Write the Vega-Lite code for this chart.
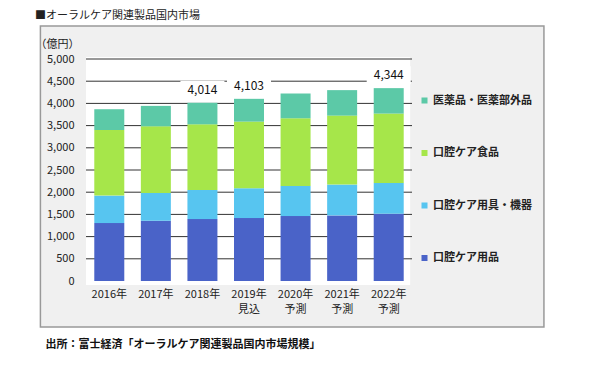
{
  "$schema": "https://vega.github.io/schema/vega-lite/v6.json",
  "width": 336,
  "height": 222,
  "autosize": {"type": "none"},
  "padding": {"left": 81, "top": 59, "right": 173, "bottom": 87},
  "background": "#ffffff",
  "config": {
    "font": "Noto Sans CJK JP",
    "view": {"stroke": null, "fill": null},
    "axisY": {"tickCount": 10, "labelExpr": "format(datum.value, ',')", "domain": false, "ticks": false, "grid": false, "labelPadding": 7, "labelFontSize": 11, "labelColor": "#222222", "titleAngle": 0, "titleAlign": "right", "titleX": -2, "titleY": -15, "titleBaseline": "middle", "titleFontSize": 11, "titleFontWeight": "normal", "titleColor": "#222222"},
    "axisX": {"labels": false, "ticks": false, "domain": false, "grid": false, "titleAnchor": "start", "titleAlign": "left", "titleX": -36, "titleY": 63, "titleBaseline": "middle", "titleFontSize": 11, "titleFontWeight": "bold", "titleColor": "#111111"}
  },
  "title": {
    "text": "■オーラルケア関連製品国内市場",
    "anchor": "start",
    "frame": "group",
    "dx": -46,
    "offset": 4,
    "fontSize": 11,
    "fontWeight": "normal",
    "color": "#222222"
  },
  "datasets": {
    "market": [
      {"i": 0, "year": "2016年", "cat": "口腔ケア用品", "v": 1305},
      {"i": 0, "year": "2016年", "cat": "口腔ケア用具・機器", "v": 618},
      {"i": 0, "year": "2016年", "cat": "口腔ケア食品", "v": 1478},
      {"i": 0, "year": "2016年", "cat": "医薬品・医薬部外品", "v": 468},
      {"i": 1, "year": "2017年", "cat": "口腔ケア用品", "v": 1357},
      {"i": 1, "year": "2017年", "cat": "口腔ケア用具・機器", "v": 626},
      {"i": 1, "year": "2017年", "cat": "口腔ケア食品", "v": 1501},
      {"i": 1, "year": "2017年", "cat": "医薬品・医薬部外品", "v": 460},
      {"i": 2, "year": "2018年", "cat": "口腔ケア用品", "v": 1395},
      {"i": 2, "year": "2018年", "cat": "口腔ケア用具・機器", "v": 656},
      {"i": 2, "year": "2018年", "cat": "口腔ケア食品", "v": 1478},
      {"i": 2, "year": "2018年", "cat": "医薬品・医薬部外品", "v": 485},
      {"i": 3, "year": "2019年\n見込", "cat": "口腔ケア用品", "v": 1418},
      {"i": 3, "year": "2019年\n見込", "cat": "口腔ケア用具・機器", "v": 671},
      {"i": 3, "year": "2019年\n見込", "cat": "口腔ケア食品", "v": 1501},
      {"i": 3, "year": "2019年\n見込", "cat": "医薬品・医薬部外品", "v": 513},
      {"i": 4, "year": "2020年\n予測", "cat": "口腔ケア用品", "v": 1463},
      {"i": 4, "year": "2020年\n予測", "cat": "口腔ケア用具・機器", "v": 679},
      {"i": 4, "year": "2020年\n予測", "cat": "口腔ケア食品", "v": 1523},
      {"i": 4, "year": "2020年\n予測", "cat": "医薬品・医薬部外品", "v": 558},
      {"i": 5, "year": "2021年\n予測", "cat": "口腔ケア用品", "v": 1478},
      {"i": 5, "year": "2021年\n予測", "cat": "口腔ケア用具・機器", "v": 694},
      {"i": 5, "year": "2021年\n予測", "cat": "口腔ケア食品", "v": 1553},
      {"i": 5, "year": "2021年\n予測", "cat": "医薬品・医薬部外品", "v": 574},
      {"i": 6, "year": "2022年\n予測", "cat": "口腔ケア用品", "v": 1516},
      {"i": 6, "year": "2022年\n予測", "cat": "口腔ケア用具・機器", "v": 694},
      {"i": 6, "year": "2022年\n予測", "cat": "口腔ケア食品", "v": 1561},
      {"i": 6, "year": "2022年\n予測", "cat": "医薬品・医薬部外品", "v": 573}
    ],
    "years": [
      {"i": 0, "year": "2016年"},
      {"i": 1, "year": "2017年"},
      {"i": 2, "year": "2018年"},
      {"i": 3, "year": "2019年\n見込"},
      {"i": 4, "year": "2020年\n予測"},
      {"i": 5, "year": "2021年\n予測"},
      {"i": 6, "year": "2022年\n予測"}
    ],
    "totals": [
      {"i": 2, "total": 4014},
      {"i": 3, "total": 4103},
      {"i": 6, "total": 4344}
    ],
    "grid": [
      {"t": 500}, {"t": 1000}, {"t": 1500}, {"t": 2000}, {"t": 2500},
      {"t": 3000}, {"t": 3500}, {"t": 4000}, {"t": 4500}, {"t": 5000}
    ]
  },
  "layer": [
    {
      "data": {"values": [{}]},
      "mark": {"type": "rect", "fill": "#f0f0f0", "stroke": "#999999", "strokeWidth": 1.5, "clip": false},
      "encoding": {
        "x": {"datum": -1.479, "type": "quantitative", "scale": {"domain": [-0.5, 6.5], "nice": false, "zero": false}},
        "x2": {"datum": 9.333},
        "y": {"datum": 5743, "type": "quantitative", "scale": {"domain": [0, 5000], "nice": false}},
        "y2": {"datum": -1036}
      }
    },
    {
      "data": {"values": [{}]},
      "mark": {"type": "rect", "fill": "#ffffff", "clip": false},
      "encoding": {
        "x": {"datum": -0.5, "type": "quantitative"},
        "x2": {"datum": 6.46},
        "y": {"datum": 5045, "type": "quantitative"},
        "y2": {"datum": -90}
      }
    },
    {
      "data": {"name": "grid"},
      "mark": {"type": "rule", "color": "#333333", "strokeWidth": 1},
      "encoding": {
        "x": {"datum": -0.5, "type": "quantitative"},
        "x2": {"datum": 6.5},
        "y": {"field": "t", "type": "quantitative"}
      }
    },
    {
      "data": {"name": "totals"},
      "mark": {"type": "tick", "orient": "horizontal", "color": "#ffffff", "opacity": 1, "size": 44, "thickness": 18, "yOffset": -13},
      "encoding": {
        "x": {"field": "i", "type": "quantitative"},
        "y": {"field": "total", "type": "quantitative"}
      }
    },
    {
      "data": {"name": "market"},
      "transform": [
        {"calculate": "indexof(['口腔ケア用品', '口腔ケア用具・機器', '口腔ケア食品', '医薬品・医薬部外品'], datum.cat)", "as": "stackOrder"}
      ],
      "mark": {"type": "bar", "size": 30},
      "encoding": {
        "x": {"field": "i", "type": "quantitative", "axis": {"zindex": 2, "title": "出所：富士経済「オーラルケア関連製品国内市場規模」"}},
        "y": {"field": "v", "type": "quantitative", "stack": "zero", "axis": {"zindex": 2, "title": "（億円）"}},
        "color": {
          "field": "cat",
          "type": "nominal",
          "scale": {
            "domain": ["口腔ケア用品", "口腔ケア用具・機器", "口腔ケア食品", "医薬品・医薬部外品"],
            "range": ["#4a63c8", "#57c5f0", "#a6e64a", "#5cc9a7"]
          },
          "legend": {
            "values": ["医薬品・医薬部外品", "口腔ケア食品", "口腔ケア用具・機器", "口腔ケア用品"],
            "title": null,
            "orient": "none",
            "legendX": 338,
            "legendY": 36,
            "padding": 0,
            "symbolType": "square",
            "symbolSize": 36,
            "symbolStrokeWidth": 0,
            "labelFontSize": 11,
            "labelFontWeight": "bold",
            "labelColor": "#222222",
            "labelOffset": 3,
            "rowPadding": 40.5
          }
        },
        "order": {"field": "stackOrder", "type": "quantitative", "sort": "ascending"}
      }
    },
    {
      "data": {"name": "totals"},
      "mark": {"type": "text", "fontSize": 12, "color": "#111111", "baseline": "middle", "dy": -13},
      "encoding": {
        "x": {"field": "i", "type": "quantitative"},
        "y": {"field": "total", "type": "quantitative"},
        "text": {"field": "total", "type": "quantitative", "format": ","}
      }
    },
    {
      "data": {"name": "years"},
      "mark": {"type": "text", "fontSize": 11, "color": "#222222", "baseline": "top", "dy": 8, "lineBreak": "\n", "lineHeight": 15, "clip": false},
      "encoding": {
        "x": {"field": "i", "type": "quantitative"},
        "y": {"datum": 0, "type": "quantitative"},
        "text": {"field": "year", "type": "nominal"}
      }
    }
  ]
}
